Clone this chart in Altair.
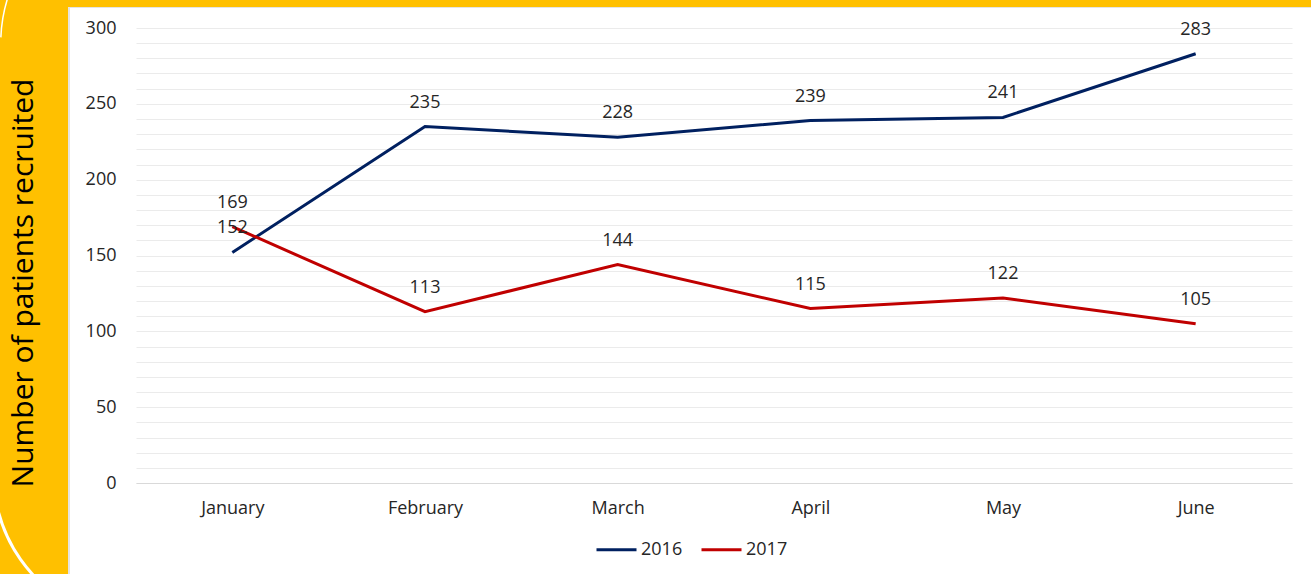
import altair as alt
import pandas as pd

months = ["January", "February", "March", "April", "May", "June"]
series = ["2016", "2017"]
values_2016 = [152, 235, 228, 239, 241, 283]
values_2017 = [169, 113, 144, 115, 122, 105]
colors = ["#002060", "#C00000"]
y_grid_values = list(range(0, 301, 10))
y_title = "Number of patients recruited"

rows = []
for s, vals in zip(series, [values_2016, values_2017]):
    for m, v in zip(months, vals):
        rows.append({"month": m, "series": s, "value": v})
df = pd.DataFrame(rows)

W, H = 1156, 455
PL, PT, PR, PB = 136, 28, 19, 91
FONT = "Open Sans"
YELLOW = "#FFC000"

x_enc = alt.X(
    "month:N",
    sort=months,
    scale=alt.Scale(padding=0.5),
    axis=alt.Axis(
        title=None, labelAngle=0, ticks=False, grid=False,
        domainColor="#D9D9D9", domainWidth=1,
        labelPadding=16, labelFontSize=18, labelFont=FONT, labelColor="#262626",
    ),
)
y_enc = alt.Y(
    "value:Q",
    scale=alt.Scale(domain=[0, 300], nice=False),
    axis=alt.Axis(
        title=None, values=y_grid_values, labelOverlap=False,
        labelExpr="datum.value % 50 == 0 ? datum.label : ''",
        ticks=False, domain=False, grid=True, gridColor="#EBEBEB", gridWidth=1,
        labelPadding=20, labelFontSize=18, labelFont=FONT, labelColor="#262626",
    ),
)
color_enc = alt.Color(
    "series:N",
    scale=alt.Scale(domain=series, range=colors),
    legend=alt.Legend(
        title=None, orient="none", legendX=459, legendY=500, direction="horizontal",
        symbolType="stroke", symbolSize=1600, symbolStrokeWidth=3,
        labelFontSize=18, labelFont=FONT, labelColor="#262626",
        labelOffset=3, columnPadding=12, padding=0,
    ),
)

one = alt.Data(values=[{}])
bg_left = alt.Chart(one).mark_rect(color=YELLOW).encode(
    x=alt.value(-PL), x2=alt.value(-68), y=alt.value(-PT), y2=alt.value(H + PB)
)
bg_edge = alt.Chart(one).mark_rect(color="#E4E4E4").encode(
    x=alt.value(-68), x2=alt.value(-66), y=alt.value(-21), y2=alt.value(H + PB)
)
bg_top = alt.Chart(one).mark_rect(color=YELLOW).encode(
    x=alt.value(-PL), x2=alt.value(W + PR), y=alt.value(-PT), y2=alt.value(-21)
)
bg_top_edge = alt.Chart(one).mark_rect(color="#E4E4E4").encode(
    x=alt.value(-66), x2=alt.value(W + PR), y=alt.value(-21), y2=alt.value(-20)
)
# decorative white curves in the yellow band
curve_top = alt.Chart(one).mark_arc(
    color="#FFFFFF", radius=150, radius2=148.5, theta=4.75, theta2=5.1
).encode(x=alt.value(150 - PL), y=alt.value(43 - PT))
curve_bottom = alt.Chart(one).mark_arc(
    color="#FFFFFF", radius=150, radius2=147, theta=3.7, theta2=4.5
).encode(x=alt.value(142 - PL), y=alt.value(474 - PT))

# y-axis title, drawn on the yellow band
title_text = alt.Chart(alt.Data(values=[{"t": y_title}])).mark_text(
    angle=270, fontSize=30, font=FONT, color="#000000",
    align="center", baseline="alphabetic",
).encode(text="t:N", x=alt.value(33 - PL), y=alt.value(283 - PT))

base = alt.Chart(df)
lines = base.mark_line(strokeWidth=3).encode(x=x_enc, y=y_enc, color=color_enc)
labels = base.mark_text(dy=-24, fontSize=18, font=FONT, color="#262626", baseline="middle").encode(
    x=x_enc, y=y_enc, text="value:Q"
)

chart = alt.layer(
    bg_left, bg_edge, bg_top, bg_top_edge, curve_top, curve_bottom, title_text, lines, labels
).properties(
    width=W, height=H,
    autosize=alt.AutoSizeParams(type="none"),
    padding={"left": PL, "top": PT, "right": PR, "bottom": PB},
).configure(background="#FFFFFF").configure_view(stroke=None)

chart.save("out.html", embed_options={"renderer": "svg", "actions": False})
